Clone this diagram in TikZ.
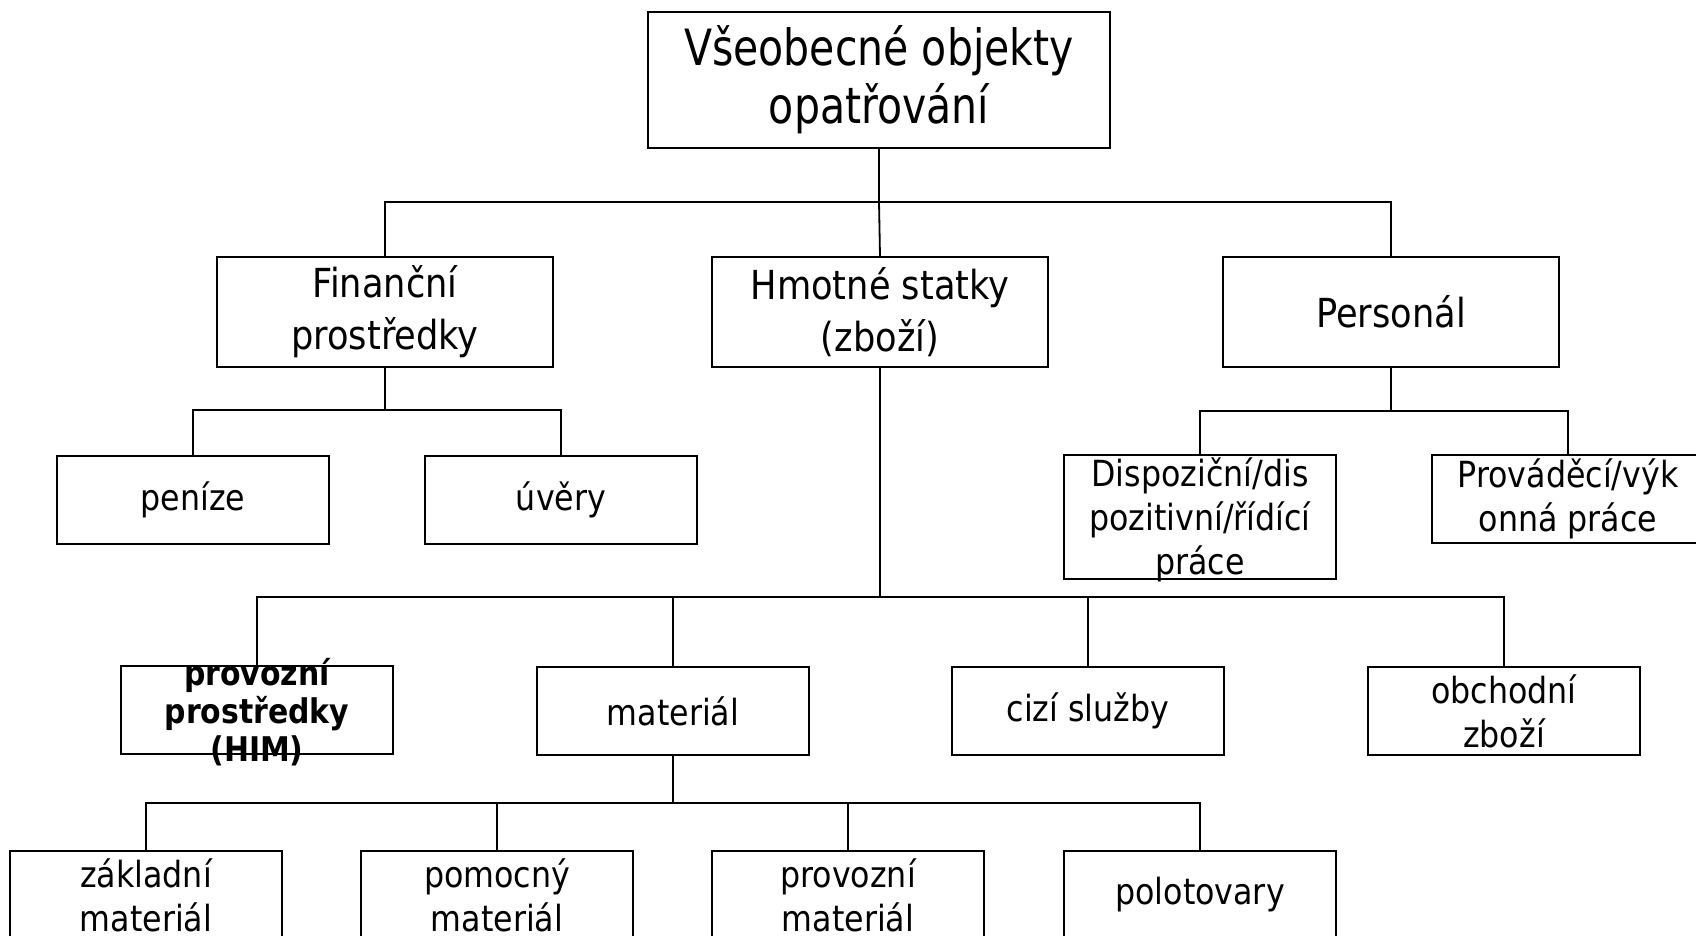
\documentclass[tikz,border=0pt]{standalone}
\usepackage{fontspec}
\setmainfont{DejaVu Sans}[FakeStretch=0.88]
\newfontfamily\narrowfont{DejaVu Sans}[FakeStretch=0.82]

\tikzset{
  box/.style={draw, line width=1.8pt, inner sep=0pt, align=center},
  topbox/.style={box, minimum width=462pt, minimum height=136pt, font=\narrowfont\fontsize{50}{58}\selectfont},
  midbox/.style={box, minimum width=336pt, minimum height=110pt, font=\fontsize{40}{52}\selectfont},
  leafbox/.style={box, minimum width=272pt, minimum height=88pt, font=\fontsize{36}{44}\selectfont},
  conn/.style={line width=1.8pt}
}

\begin{document}
\begin{tikzpicture}[x=1pt, y=-1pt]
    \clip (0,0) rectangle (1696,936);

    % Top level
    \node[topbox] (obj) at (879,80) {Všeobecné objekty\\opatřování};

    % Second level
    \node[midbox] (fin) at (385,312) {Finanční\\prostředky};
    \node[midbox] (hmot) at (880,312) {Hmotné statky\\(zboží)};
    \node[midbox] (pers) at (1391,312) {Personál};

    % Under Finanční / Personál
    \node[leafbox] (pen) at (193,500) {peníze};
    \node[leafbox] (uver) at (561,500) {úvěry};
    \node[leafbox, minimum height=124pt] (disp) at (1200,517) {};
    \node[font=\fontsize{36}{44}\selectfont, align=center] (disptxt) at ([yshift=-3pt]disp) {Dispoziční/dis\\pozitivní/řídící\\práce};
    \node[leafbox] (prov) at (1568,499) {Prováděcí/výk\\onná práce};

    % Under Hmotné statky
    \node[leafbox] (him) at (257,710) {};
    \node[font=\bfseries\fontsize{34}{38}\selectfont, align=center] (himtxt) at ([yshift=-2pt]him) {provozní\\prostředky\\(HIM)};
    \node[leafbox] (mat) at (673,711) {materiál};
    \node[leafbox] (cizi) at (1088,711) {cizí služby};
    \node[leafbox] (obch) at (1504,711) {obchodní\\zboží};

    % Under materiál
    \node[leafbox] (zakl) at (146,895) {základní\\materiál};
    \node[leafbox] (pomoc) at (497,895) {pomocný\\materiál};
    \node[leafbox] (provmat) at (848,895) {provozní\\materiál};
    \node[leafbox] (polot) at (1200,895) {polotovary};

    % Bus points
    \coordinate (bus1) at (879,202);
    \coordinate (bus2) at (385,410);
    \coordinate (bus3) at (1391,411);
    \coordinate (bus4) at (880,597);
    \coordinate (bus5) at (673,803);

    % Connectors
    \draw[conn] (obj.south) -- (bus1) -| (fin.north);
    \draw[conn] (bus1) -- (hmot.north);
    \draw[conn] (bus1) -| (pers.north);

    \draw[conn] (fin.south) -- (bus2) -| (pen.north);
    \draw[conn] (bus2) -| (uver.north);

    \draw[conn] (pers.south) -- (bus3) -| (disp.north);
    \draw[conn] (bus3) -| (prov.north);

    \draw[conn] (hmot.south) -- (bus4) -| (him.north);
    \draw[conn] (bus4) -| (mat.north);
    \draw[conn] (bus4) -| (cizi.north);
    \draw[conn] (bus4) -| (obch.north);

    \draw[conn] (mat.south) -- (bus5) -| (zakl.north);
    \draw[conn] (bus5) -| (pomoc.north);
    \draw[conn] (bus5) -| (provmat.north);
    \draw[conn] (bus5) -| (polot.north);
\end{tikzpicture}
\end{document}
